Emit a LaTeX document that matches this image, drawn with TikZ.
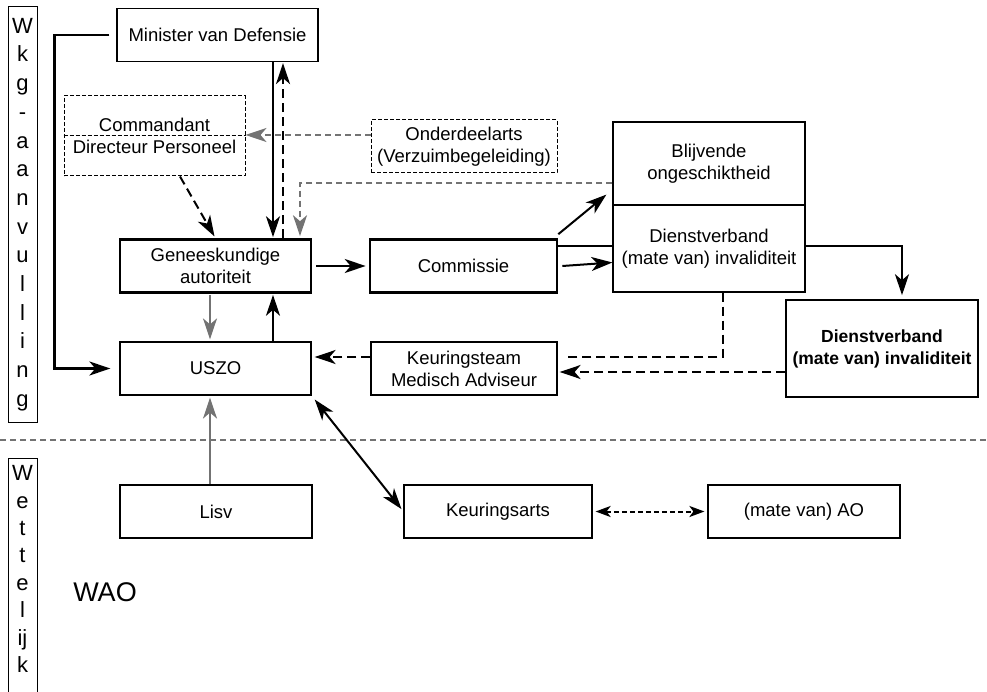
\documentclass[tikz,border=0pt]{standalone}
\usepackage{fontspec}
\setmainfont{Liberation Sans}
\usepackage{tikz}
\usetikzlibrary{arrows.meta}

\begin{document}
\begin{tikzpicture}[x=1pt,y=-1pt,
  every node/.style={font=\fontsize{18.5}{22}\selectfont},
  box/.style={draw, line width=1.2pt, minimum width=191pt, minimum height=53pt, align=center, inner sep=1pt},
  thickbox/.style={box, line width=2.6pt},
  dashbox/.style={box, line width=1pt, dash pattern=on 4pt off 2pt},
  bigtip/.style={-{Stealth[length=21pt,width=14pt,inset=6pt]}},
  bothtips/.style={{Stealth[length=21pt,width=14pt,inset=6pt]}-{Stealth[length=21pt,width=14pt,inset=6pt]}},
  arrowline/.style={line width=2pt, bigtip},
  dashline/.style={line width=2pt, dash pattern=on 9pt off 5pt},
  dasharrow/.style={dashline, bigtip},
  grayline/.style={draw=black!55, line width=1.4pt, dash pattern=on 6pt off 4pt},
  grayarrow/.style={grayline, bigtip},
  graysolid/.style={draw=black!55, line width=1.8pt, bigtip}]
\useasboundingbox (0,0) rectangle (987,692);

% upper half: Wkg-aanvulling
\node[draw, line width=1pt, minimum width=29pt, minimum height=415pt, inner sep=0pt, align=center, font=\fontsize{22}{28.7}\selectfont] (wkg) at (22.5,214.5) {W\\k\\g\\-\\a\\a\\n\\v\\u\\l\\l\\i\\n\\g};

\node[box, minimum width=201pt] (minister) at (217.5,35) {Minister van Defensie};
\node[dashbox, minimum width=181pt, minimum height=80pt] (cmd) at (154.5,136) {Commandant\\Directeur Personeel};
\draw[line width=1pt, dash pattern=on 4pt off 2pt] (cmd.west) -- (cmd.east);
\node[dashbox, minimum width=186pt] (onder) at (464,146.5) {Onderdeelarts\\(Verzuimbegeleiding)};
\node[box, minimum width=192pt, minimum height=83pt] (blijv) at (709,163.5) {Blijvende\\ongeschiktheid};
\node[box, minimum width=192pt, minimum height=87pt] (dvb) at (709,248.5) {Dienstverband\\(mate van) invaliditeit};
\node[thickbox] (genees) at (215.5,266) {Geneeskundige\\autoriteit};
\node[thickbox, minimum width=187pt] (commissie) at (463.5,266) {Commissie};
\node[box] (uszo) at (215.5,368.5) {USZO};
\node[box, minimum width=186pt] (keurteam) at (464,368.5) {Keuringsteam\\Medisch Adviseur};
\node[box, line width=1.6pt, minimum width=192pt, minimum height=97pt, font=\fontsize{17.5}{22}\selectfont\bfseries] (dvbmate) at (882,348.5) {Dienstverband\\(mate van) invaliditeit};

% lower half: Wettelijk
\coordinate (sepL) at (0,440);
\coordinate (sepR) at (987,440);
\draw[grayline] (sepL) -- (sepR);
\node[align=center, inner sep=0pt, font=\fontsize{22}{27.4}\selectfont] (wet) at (22.5,569) {W\\e\\t\\t\\e\\l\\ij\\k};
\draw[line width=1pt] (8,692) -- (8,458) -- (37,458) -- (37,692);
\node[font=\fontsize{27}{30}\selectfont] (wao) at (105,592) {WAO};
\node[box, minimum width=192pt] (lisv) at (216,511.5) {Lisv};
\node[box, minimum width=188pt] (keurarts) at (498,511.5) {Keuringsarts};
\node[box, minimum width=192pt] (ao) at (804,511.5) {(mate van) AO};

% connectors
\draw[arrowline, line width=2.6pt, shorten <=7pt, shorten >=9pt] (minister.west) -- ++(-62,0) |- (uszo.west);
\draw[arrowline, shorten >=1pt] ([xshift=55.5pt]minister.south) -- ([xshift=57.5pt]genees.north);
\draw[dasharrow, shorten >=1pt] ([xshift=67.5pt]genees.north) -- ([xshift=65.5pt]minister.south);
\coordinate (onderL) at ([yshift=11.5pt]onder.west);
\draw[grayarrow] (onderL) -- (onderL -| cmd.east);
\coordinate (blijvL) at ([yshift=-19.5pt]blijv.west);
\draw[grayarrow, shorten >=2pt] (blijvL) -| ([xshift=84.5pt]genees.north);
\draw[dasharrow, shorten >=2pt] ([xshift=25.5pt]cmd.south) -- (genees.north);
\draw[arrowline, shorten <=4pt, shorten >=3pt] (genees) -- (commissie);
\draw[arrowline] ([yshift=4pt]commissie.north east) -- ([shift={(-6pt,11pt)}]blijv.south west);
\draw[arrowline] ([xshift=4pt]commissie.east) -- ([yshift=-14pt]dvb.west);
\coordinate (cthru) at ([yshift=20pt]commissie.east);
\draw[line width=2.6pt] (cthru) -- (cthru -| dvb.west);
\coordinate (dvbR) at ([yshift=2.5pt]dvb.east);
\draw[arrowline, line width=2.6pt] (dvbR) -| ([shift={(20pt,4pt)}]dvbmate.north);
\coordinate (keurR) at ([yshift=11.5pt]keurteam.east);
\draw[dashline] ([xshift=14pt]dvb.south) |- ([xshift=6pt]keurR);
\coordinate (dvbmateL) at ([yshift=-23.5pt]dvbmate.west);
\draw[dasharrow, shorten >=2pt] (dvbmateL) -- (dvbmateL -| keurteam.east);
\coordinate (keurL) at ([yshift=11.5pt]keurteam.west);
\draw[dasharrow, shorten >=3pt] (keurL) -- (keurL -| uszo.east);
\draw[graysolid, shorten <=1pt, shorten >=2pt] ([xshift=-5.5pt]genees.south) -- ([xshift=-5.5pt]uszo.north);
\draw[arrowline, shorten >=1pt] ([xshift=57.5pt]uszo.north) -- ([xshift=57.5pt]genees.south);
\draw[graysolid, shorten >=2pt] ([xshift=-6pt]lisv.north) -- ([xshift=-5.5pt]uszo.south);
\draw[line width=2pt, bothtips, shorten <=5pt, shorten >=3pt] (uszo.south east) -- (keurarts.west);
\draw[line width=2pt, dash pattern=on 5pt off 3pt, {Stealth[length=15pt,width=11pt,inset=4pt]}-{Stealth[length=15pt,width=11pt,inset=4pt]}, shorten <=3pt, shorten >=3pt] (keurarts) -- (ao);

\end{tikzpicture}
\end{document}
